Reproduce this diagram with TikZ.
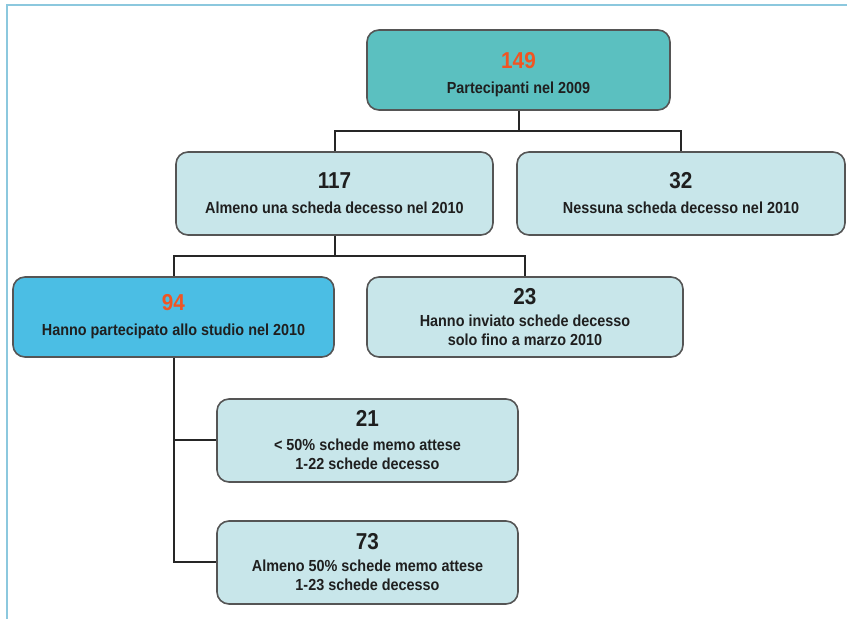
\documentclass[tikz,border=0pt]{standalone}
\usepackage{fontspec}
\setmainfont{Liberation Sans}[FakeStretch=0.9]
\usetikzlibrary{positioning}

\definecolor{teal1}{RGB}{91,192,192}
\definecolor{pale}{RGB}{200,230,234}
\definecolor{sky}{RGB}{75,190,228}
\definecolor{numred}{RGB}{240,85,35}
\definecolor{boxline}{RGB}{85,85,85}
\definecolor{frameblue}{RGB}{140,200,222}

\begin{document}
\begin{tikzpicture}[x=0.5pt,y=-0.5pt]
	\tikzstyle{box} = [draw=boxline,line width=0.8pt,rounded corners=6pt,align=center,inner sep=0pt,text=black!88,font=\bfseries\fontsize{8}{9.5}\selectfont,minimum height=40pt]
	\tikzstyle{link} = [line width=1pt,black!85]

	\useasboundingbox (0,0) rectangle (847,619);
	\draw[frameblue,line width=0.8pt] (7,619) -- (7,5) -- (847,5);

	\node[box,fill=teal1,minimum width=151.5pt] at (518.5,70) (start) {\rule{0pt}{13pt}{\fontsize{11.5}{11}\selectfont\color{numred}149}\\[3pt] Partecipanti nel 2009};
	\node[box,fill=pale,minimum width=158.5pt,minimum height=41.5pt] at (334.5,193.5) (some) {{\fontsize{11.5}{11}\selectfont 117}\\[3pt] Almeno una scheda decesso nel 2010};
	\node[box,fill=pale,minimum width=164pt,minimum height=41.5pt] at (681,193.5) (none) {{\fontsize{11.5}{11}\selectfont 32}\\[3pt] Nessuna scheda decesso nel 2010};
	\node[box,fill=sky,minimum width=160.5pt] at (173.5,317) (study) {{\fontsize{11.5}{11}\selectfont\color{numred}94}\\[3pt] Hanno partecipato allo studio nel 2010};
	\node[box,fill=pale,minimum width=158pt] at (525,317) (march) {{\fontsize{11.5}{11}\selectfont 23}\\[1.5pt] Hanno inviato schede decesso\\ solo fino a marzo 2010};
	\node[box,fill=pale,minimum width=150.5pt,minimum height=41.5pt] at (367.5,440.5) (low) {{\fontsize{11.5}{11}\selectfont 21}\\[2.5pt] < 50\% schede memo attese\\ 1-22 schede decesso};
	\node[box,fill=pale,minimum width=150.5pt,minimum height=41.5pt] at (367.5,562.5) (high) {{\fontsize{11.5}{11}\selectfont 73}\\[1.5pt] Almeno 50\% schede memo attese\\ 1-23 schede decesso};

	\begin{scope}[link]
		\draw (start.south) -- ++(0,20) -| (some.north);
		\draw (start.south) -- ++(0,20) -| (none.north);
		\draw (some.south) -- ++(0,20) -| (study.north);
		\draw (some.south) -- ++(0,20) -| (march.north);
		\draw (study.south) |- (low.west);
		\draw (study.south) |- (high.west);
	\end{scope}
\end{tikzpicture}
\end{document}
